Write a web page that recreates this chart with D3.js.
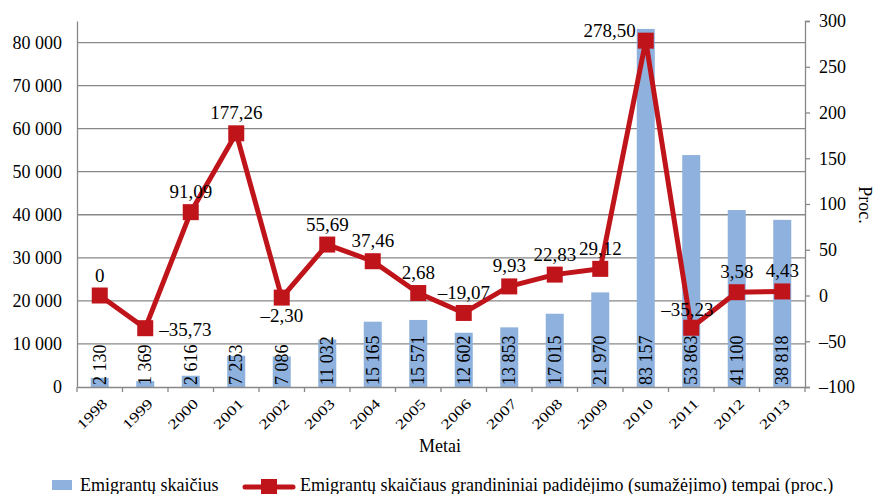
<!DOCTYPE html>
<html>
<head>
<meta charset="utf-8">
<script src="https://cdn.jsdelivr.net/npm/d3@7"></script>
<style>
  body { margin: 0; background: #fff; }
  svg text { font-family: "Liberation Serif", "DejaVu Serif", "Times New Roman", Times, serif !important; fill: #000; }
</style>
</head>
<body>
<div id="plot"></div>
<script>
var years = ["1998","1999","2000","2001","2002","2003","2004","2005","2006","2007","2008","2009","2010","2011","2012","2013"]
var emigrants = [2130, 1369, 2616, 7253, 7086, 11032, 15165, 15571, 12602, 13853, 17015, 21970, 83157, 53863, 41100, 38818]
var rates = [0, -35.73, 91.09, 177.26, -2.30, 55.69, 37.46, 2.68, -19.07, 9.93, 22.83, 29.12, 278.50, -35.23, 3.58, 4.43]
var leftTicks = [0, 10000, 20000, 30000, 40000, 50000, 60000, 70000, 80000]
var rightTicks = [-100, -50, 0, 50, 100, 150, 200, 250, 300]

// label placement per point: [dx, dy, anchor]
var labelPos = {
  "1999": [14, 8, "start"],
  "2002": [0, 24, "middle"],
  "2010": [-10, -4, "end"],
  "2011": [-4, -12, "middle"]
}

var margin = { top: 21, left: 77, right: 73, bottom: 107 }
  , width = 878 - margin.left - margin.right
  , height = 494 - margin.top - margin.bottom

var svg = d3.select("#plot")
  .append("svg")
  .attr("width", 878)
  .attr("height", 494)

var g = svg.append("g")
  .attr("transform", "translate(" + margin.left + "," + margin.top + ")")

var x = d3.scaleBand().domain(years).range([0, width])
var yL = d3.scaleLinear().domain([0, 85000]).range([height, 0])
var yR = d3.scaleLinear().domain([-100, 300]).range([height, 0])

var fmt = d => d3.format(",")(d).replace(/,/g, " ")
var fmtR = d => d === 0 ? "0" : (d < 0 ? "\u2013" : "") + d3.format(".2f")(Math.abs(d)).replace(".", ",")

// gridlines
g.selectAll(".grid")
  .data(leftTicks.slice(1))
  .enter().append("line")
  .attr("x1", 0).attr("x2", width)
  .attr("y1", d => yL(d)).attr("y2", d => yL(d))
  .attr("stroke", "#888").attr("stroke-width", 1.3)

// bars
g.selectAll(".bar")
  .data(emigrants)
  .enter().append("rect")
  .attr("x", (d, i) => x(years[i]) + x.bandwidth() / 2 - 9)
  .attr("width", 18)
  .attr("y", d => yL(d))
  .attr("height", d => height - yL(d))
  .attr("fill", "#8EB1DD")

// bar labels
g.selectAll(".blab")
  .data(emigrants)
  .enter().append("text")
  .attr("transform", (d, i) => "translate(" + (x(years[i]) + x.bandwidth() / 2 + 6) + "," + (height - 2) + ") rotate(-90)")
  .style("font-size", "18px")
  .text(d => fmt(d))

// left axis
var axL = g.append("g")
  .call(d3.axisLeft(yL).tickValues(leftTicks).tickSize(0).tickPadding(15).tickFormat(fmt))
axL.select(".domain").attr("stroke", "#888").attr("stroke-width", 1.3)
axL.selectAll("text").style("font-size", "18px")

// right axis
var axR = g.append("g")
  .attr("transform", "translate(" + width + ",0)")
  .call(d3.axisRight(yR).tickValues(rightTicks).tickSize(5).tickPadding(9).tickFormat(d => d < 0 ? "\u2013" + Math.abs(d) : d))
axR.selectAll("path, line").attr("stroke", "#888").attr("stroke-width", 1.3)
axR.selectAll("text").style("font-size", "18px")

// bottom axis
var axB = g.append("g")
  .attr("transform", "translate(0," + height + ")")
  .call(d3.axisBottom(x).tickSize(0).tickPadding(0))
axB.select(".domain").attr("stroke", "#888").attr("stroke-width", 1.3)
axB.selectAll(".sep")
  .data(d3.range(years.length + 1))
  .enter().append("line")
  .attr("x1", i => i * x.step()).attr("x2", i => i * x.step())
  .attr("y1", 0).attr("y2", 5)
  .attr("stroke", "#888").attr("stroke-width", 1.3)
axB.selectAll(".tick text")
  .style("font-size", "14px")
  .attr("text-anchor", "end")
  .attr("y", 0)
  .attr("transform", "translate(5,14) rotate(-45) scale(1.3,1)")
  .attr("dy", "0.35em")

// line
var line = d3.line()
  .x((d, i) => x(years[i]) + x.bandwidth() / 2)
  .y(d => yR(d))

g.append("path")
  .datum(rates)
  .attr("fill", "none")
  .attr("stroke", "#C0141B")
  .attr("stroke-width", 5)
  .attr("stroke-linejoin", "round")
  .attr("d", line)

g.selectAll(".dot")
  .data(rates)
  .enter().append("rect")
  .attr("x", (d, i) => x(years[i]) + x.bandwidth() / 2 - 8)
  .attr("y", d => yR(d) - 8)
  .attr("width", 16).attr("height", 16)
  .attr("fill", "#C0141B")

g.selectAll(".rlab")
  .data(rates)
  .enter().append("text")
  .attr("x", (d, i) => x(years[i]) + x.bandwidth() / 2 + (labelPos[years[i]] ? labelPos[years[i]][0] : 0))
  .attr("y", (d, i) => yR(d) + (labelPos[years[i]] ? labelPos[years[i]][1] : -14))
  .attr("text-anchor", (d, i) => labelPos[years[i]] ? labelPos[years[i]][2] : "middle")
  .style("font-size", "19px")
  .text(d => fmtR(d))

// axis titles
svg.append("text")
  .attr("x", 440).attr("y", 452)
  .attr("text-anchor", "middle")
  .style("font-size", "18px")
  .text("Metai")

svg.append("text")
  .attr("transform", "translate(859,205) rotate(90)")
  .attr("text-anchor", "middle")
  .style("font-size", "18px")
  .text("Proc.")

// legend
var leg = svg.append("g").attr("transform", "translate(0,487)")
leg.append("rect").attr("x", 52).attr("y", -7).attr("width", 20).attr("height", 10).attr("fill", "#8EB1DD")
leg.append("text").attr("x", 80).attr("y", 4).style("font-size", "18px").text("Emigrantų skaičius")
leg.append("line").attr("x1", 245).attr("x2", 293).attr("y1", 0).attr("y2", 0)
  .attr("stroke", "#C0141B").attr("stroke-width", 5).attr("stroke-linecap", "round")
leg.append("rect").attr("x", 261).attr("y", -8).attr("width", 16).attr("height", 16).attr("fill", "#C0141B")
leg.append("text").attr("x", 300).attr("y", 4).style("font-size", "18px")
  .text("Emigrantų skaičiaus grandininiai padidėjimo (sumažėjimo) tempai (proc.)")
</script>
</body>
</html>
